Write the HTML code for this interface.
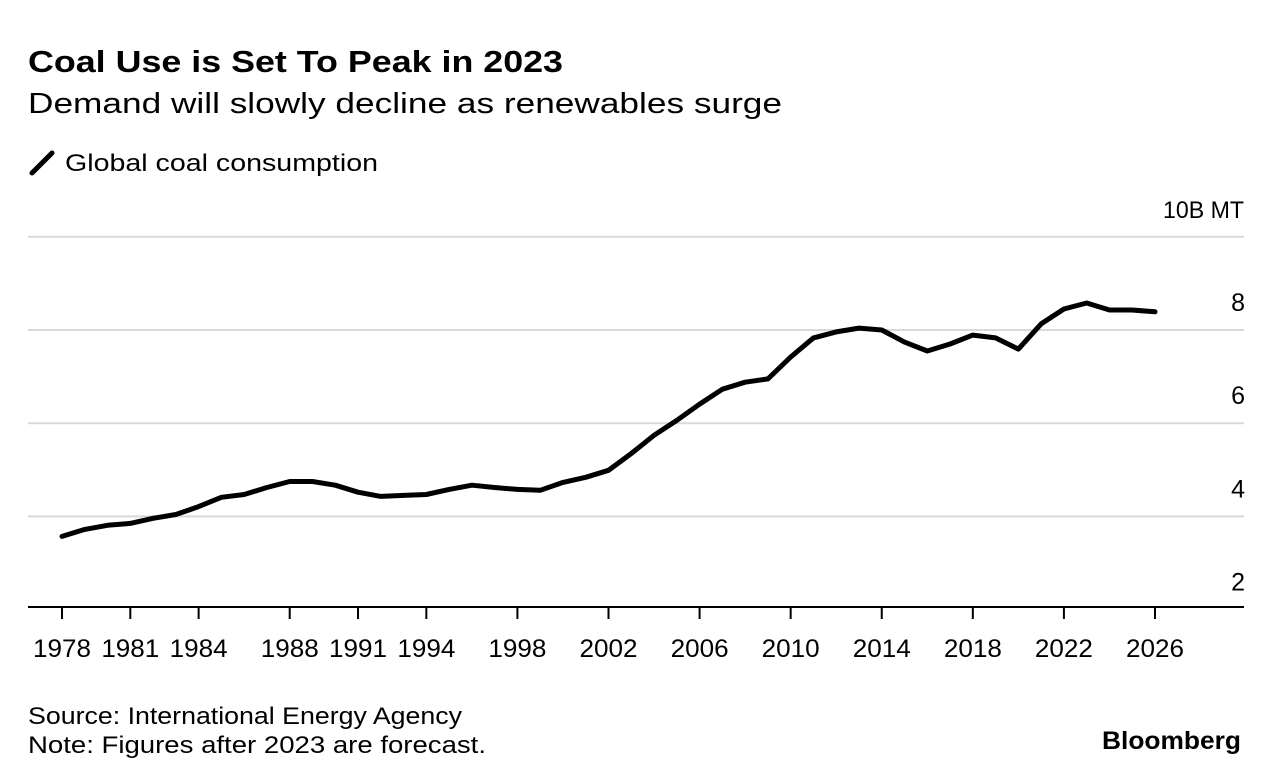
<!DOCTYPE html>
<html><head><meta charset="utf-8"><style>
body{margin:0;background:#fff;font-family:"Liberation Sans",sans-serif;color:#000;}
svg{display:block}
</style></head><body>
<svg width="1279" height="784" id="chart">
<text x="28" y="72" font-size="31" font-weight="bold" textLength="535" lengthAdjust="spacingAndGlyphs">Coal Use is Set To Peak in 2023</text>
<text x="28" y="113" font-size="29" textLength="754" lengthAdjust="spacingAndGlyphs">Demand will slowly decline as renewables surge</text>
<line x1="32" y1="173" x2="52" y2="153" stroke="#000" stroke-width="5" stroke-linecap="round"/>
<text x="65" y="171" font-size="24" textLength="313" lengthAdjust="spacingAndGlyphs">Global coal consumption</text>
<text x="1163" y="218" font-size="24" textLength="81" lengthAdjust="spacingAndGlyphs">10B MT</text>
<g id="grid"></g><g id="xaxis"></g>
<path id="line" fill="none" stroke="#000" stroke-width="5" stroke-linejoin="round" stroke-linecap="round"/>
<text x="28" y="724" font-size="24" textLength="434" lengthAdjust="spacingAndGlyphs">Source: International Energy Agency</text>
<text x="28" y="753" font-size="24" textLength="458" lengthAdjust="spacingAndGlyphs">Note: Figures after 2023 are forecast.</text>
<text x="1102" y="749" font-size="25" font-weight="bold" textLength="139" lengthAdjust="spacingAndGlyphs">Bloomberg</text>
</svg>
<script>
const years=[1978,1979,1980,1981,1982,1983,1984,1985,1986,1987,1988,1989,1990,1991,1992,1993,1994,1995,1996,1997,1998,1999,2000,2001,2002,2003,2004,2005,2006,2007,2008,2009,2010,2011,2012,2013,2014,2015,2016,2017,2018,2019,2020,2021,2022,2023,2024,2025,2026];
const values=[3.57,3.72,3.81,3.85,3.96,4.04,4.21,4.41,4.47,4.62,4.75,4.75,4.67,4.52,4.43,4.45,4.47,4.58,4.67,4.62,4.58,4.56,4.73,4.84,4.99,5.35,5.74,6.06,6.41,6.73,6.88,6.95,7.42,7.83,7.96,8.04,8.00,7.74,7.55,7.70,7.89,7.83,7.59,8.13,8.45,8.58,8.43,8.43,8.39];
const xTicks=[1978,1981,1984,1988,1991,1994,1998,2002,2006,2010,2014,2018,2022,2026];
const yTicks=[2,4,6,8,10];
const NS="http://www.w3.org/2000/svg";
const x=yr=>62+(yr-1978)*(1155-62)/48;
const y=v=>330+(8-v)*46.6;
const grid=document.getElementById('grid');
yTicks.forEach(t=>{
  if(t>2){const l=document.createElementNS(NS,'line');
  l.setAttribute('x1',28);l.setAttribute('x2',1244);l.setAttribute('y1',y(t));l.setAttribute('y2',y(t));
  l.setAttribute('stroke','#d9d9d9');l.setAttribute('stroke-width',2);
  
  
  grid.appendChild(l);}
  if(t<10){const tx=document.createElementNS(NS,'text');
  tx.setAttribute('x',1245);tx.setAttribute('y',y(t)-19);tx.setAttribute('text-anchor','end');tx.setAttribute('font-size',25);
  tx.textContent=t;
  
  
  grid.appendChild(tx);}
});
const xa=document.getElementById('xaxis');
const ax=document.createElementNS(NS,'line');
ax.setAttribute('x1',28);ax.setAttribute('x2',1244);ax.setAttribute('y1',607);ax.setAttribute('y2',607);ax.setAttribute('stroke','#000');ax.setAttribute('stroke-width',2);


xa.appendChild(ax);
xTicks.forEach(t=>{
  const l=document.createElementNS(NS,'line');
  l.setAttribute('x1',x(t));l.setAttribute('x2',x(t));l.setAttribute('y1',607);l.setAttribute('y2',619);l.setAttribute('stroke','#000');l.setAttribute('stroke-width',2);
  
  
  xa.appendChild(l);
  const tx=document.createElementNS(NS,'text');
  tx.setAttribute('x',x(t)-29);tx.setAttribute('y',657);tx.setAttribute('font-size',25);
  tx.setAttribute('textLength',58);tx.setAttribute('lengthAdjust','spacingAndGlyphs');
  tx.textContent=t;
  
  
  xa.appendChild(tx);
});
document.getElementById('line').setAttribute('d',years.map((yr,i)=>(i?'L':'M')+x(yr).toFixed(1)+','+y(values[i]).toFixed(1)).join(''));
</script>
</body></html>
